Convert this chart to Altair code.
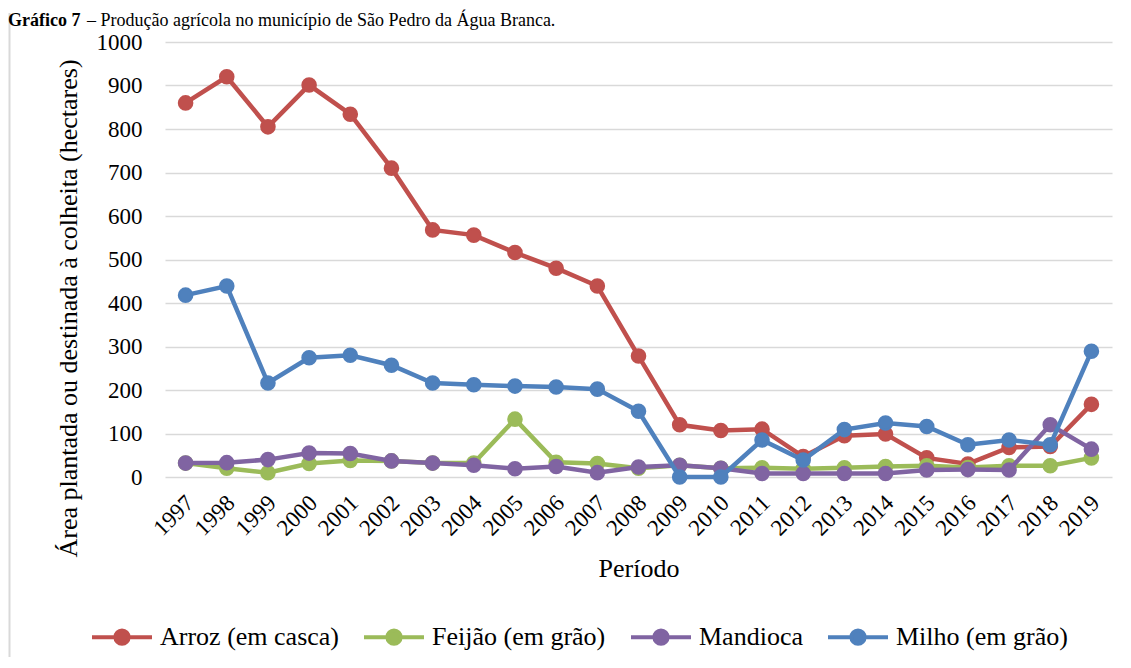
import altair as alt
import pandas as pd

# ---- data ----
years = ["1997", "1998", "1999", "2000", "2001", "2002", "2003", "2004", "2005", "2006", "2007",
         "2008", "2009", "2010", "2011", "2012", "2013", "2014", "2015", "2016", "2017", "2018", "2019"]
arroz = [860, 920, 805, 901, 834, 710, 568, 556, 516, 480, 439, 278, 120, 107, 110, 47, 95, 99, 44, 30, 68, 70, 167]
feijao = [32, 20, 10, 31, 38, 37, 32, 32, 133, 34, 31, 20, 27, 20, 21, 19, 21, 24, 26, 22, 26, 26, 44]
mandioca = [32, 33, 40, 55, 54, 37, 32, 27, 19, 24, 10, 23, 27, 20, 8, 8, 8, 8, 16, 17, 16, 120, 64]
milho = [418, 439, 216, 274, 280, 257, 216, 212, 209, 207, 202, 151, 0, 0, 85, 39, 109, 124, 116, 74, 85, 74, 289]

series_names = ["Arroz (em casca)", "Feijão (em grão)", "Mandioca", "Milho (em grão)"]
series_colors = ["#C0504D", "#9BBB59", "#8064A2", "#4F81BD"]
y_ticks = [0, 100, 200, 300, 400, 500, 600, 700, 800, 900, 1000]

title_bold = "Gráfico 7"
title_rest = "– Produção agrícola no município de São Pedro da Água Branca."
y_title = "Área plantada ou destinada à colheita (hectares)"
x_title = "Período"

rows = []
for name, vals in zip(series_names, [arroz, feijao, mandioca, milho]):
    for yr, v in zip(years, vals):
        rows.append({"ano": yr, "valor": v, "cultura": name})
df = pd.DataFrame(rows)

FONT = "Liberation Serif"

x_enc = alt.X(
    "ano:N", sort=years,
    scale=alt.Scale(type="point", padding=0.5),
    axis=alt.Axis(
        title=x_title, labelAngle=-45, labelAlign="right", labelBaseline="middle",
        labelPadding=22, labelOffset=4, labelFontSize=23, grid=False,
        labelFont=FONT, labelColor="#000000",
        titleFont=FONT, titleColor="#000000",
        titleFontSize=26, titleY=99, titleBaseline="alphabetic", titleFontWeight="normal",
        domain=False, ticks=False,
    ),
)
y_enc = alt.Y(
    "valor:Q",
    scale=alt.Scale(domain=[0, 1000], nice=False, zero=True),
    axis=alt.Axis(
        title=y_title, values=y_ticks, format="d", labelFontSize=23, labelPadding=23,
        labelFont=FONT, labelColor="#000000",
        titleFont=FONT, titleColor="#000000",
        grid=True, gridColor="#d9d9d9", gridWidth=1.3,
        titleFontSize=26, titleX=-97, titleY=266, titleAngle=270,
        titleAlign="center", titleBaseline="middle", titleFontWeight="normal",
        domain=False, ticks=False,
    ),
)

# line segments on both sides of a filled circle (legend symbol: line with marker)
legend_path = ("M-1,0L-0.22,0M0.22,0L1,0"
               "M-0.22,0A0.22,0.22,0,1,1,0.22,0A0.22,0.22,0,1,1,-0.22,0Z")
legend = alt.Legend(
    title=None, orient="none", legendX=-75, legendY=563, direction="horizontal",
    symbolType=legend_path, symbolSize=3600, symbolStrokeWidth=4, symbolOpacity=1,
    labelFont=FONT, labelFontSize=26, labelColor="#000000", labelOffset=6,
    labelLimit=400, columnPadding=17,
)

cscale = alt.Scale(domain=series_names, range=series_colors)

layers = []
for i, name in enumerate(series_names):
    base = alt.Chart(df).transform_filter(alt.datum.cultura == name)
    line = base.mark_line(strokeWidth=4.5).encode(
        x=x_enc, y=y_enc,
        color=alt.Color("cultura:N", scale=cscale, legend=legend),
    )
    pts = base.mark_point(filled=True, size=185, opacity=1).encode(
        x=x_enc, y=y_enc,
        fill=alt.Fill("cultura:N", scale=cscale, legend=legend),
        stroke=alt.Stroke("cultura:N", scale=cscale, legend=legend),
    )
    layers += [line, pts]

one = pd.DataFrame({"a": [0]})
border = alt.Chart(one).mark_rule(color="#d9d9d9", strokeWidth=2).encode(
    x=alt.value(-155.5), y=alt.value(-29), y2=alt.value(640)
)
t1 = alt.Chart(pd.DataFrame({"t": [title_bold]})).mark_text(
    align="left", baseline="alphabetic", font=FONT, fontSize=18, fontWeight="bold", color="#000000"
).encode(x=alt.value(-157), y=alt.value(-16), text="t:N")
t2 = alt.Chart(pd.DataFrame({"t": [title_rest]})).mark_text(
    align="left", baseline="alphabetic", font=FONT, fontSize=18, color="#000000"
).encode(x=alt.value(-78), y=alt.value(-16), text="t:N")

chart = alt.layer(border, *layers, t1, t2).properties(
    width=947, height=435,
    padding={"left": 157, "top": 34, "right": 10, "bottom": 180},
    autosize=alt.AutoSizeParams(type="none"),
    background="white",
).configure_view(stroke=None).configure_legend(
    labelFont=FONT, labelFontSize=26, labelColor="#000000", labelLimit=400,
)

chart.save("out.html", embed_options={"renderer": "svg", "actions": False})
